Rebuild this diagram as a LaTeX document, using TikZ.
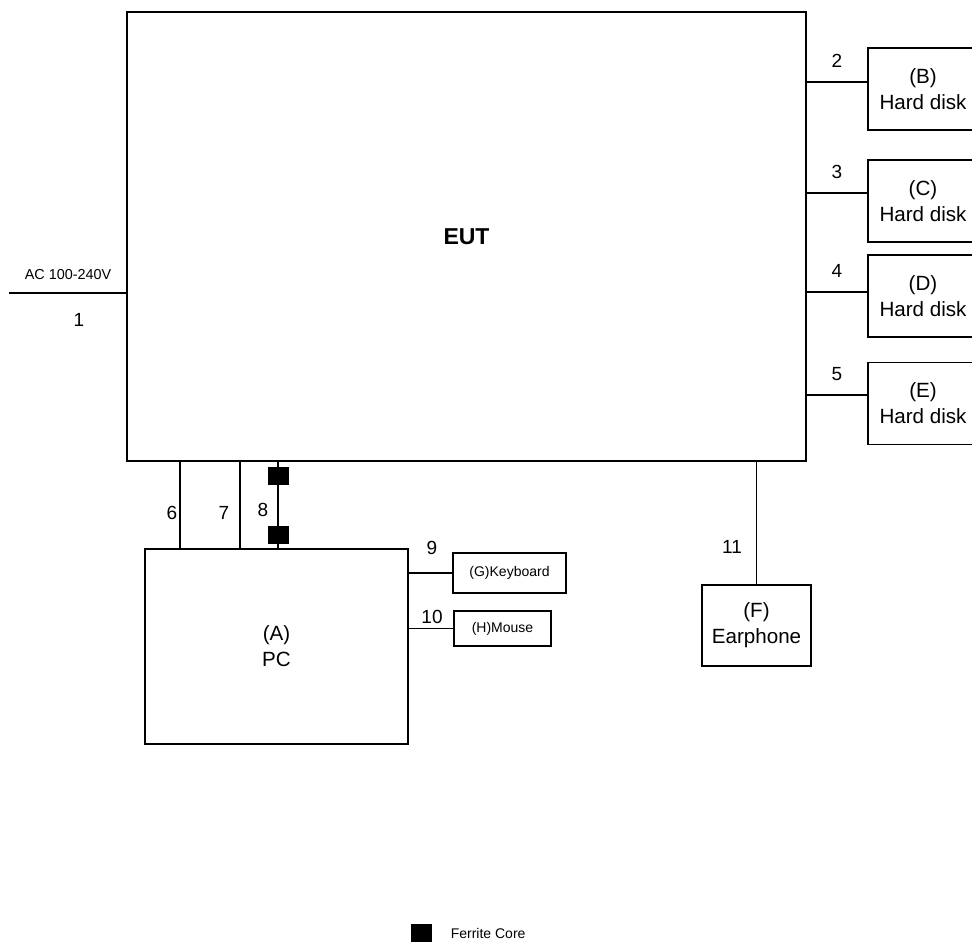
\documentclass[tikz,border=0pt]{standalone}
\usepackage{fontspec}
\setmainfont{Liberation Sans}
\usetikzlibrary{positioning}

\tikzset{
  unit/.style={draw, line width=0.8pt, inner sep=0pt, align=center,
    font=\fontsize{10.3}{13}\selectfont},
  smallunit/.style={unit, font=\fontsize{7}{9}\selectfont},
  ferrite/.style={fill=black, inner sep=0pt, minimum width=10.5pt, minimum height=9pt},
  cable/.style={line width=0.8pt},
  num/.style={inner sep=0pt, font=\fontsize{9.5}{11}\selectfont},
}

\begin{document}
\begin{tikzpicture}[x=0.5pt, y=-0.5pt]
  \clip (0,0) rectangle (972,942);

  % EUT
  \node[unit, minimum width=339.5pt, minimum height=224.5pt,
    font=\fontsize{11.5}{13}\selectfont\bfseries] (eut) at (466.5,236.5) {EUT};

  % AC mains
  \coordinate (ac) at (9,293);
  \draw[cable] (ac) -- (ac -| eut.west);
  \node[num, font=\fontsize{7.2}{9}\selectfont] (acv) at (68,275) {AC 100-240V};
  \node[num] (n1) at (79,320) {1};

  % Hard disks
  \foreach \id/\yc/\off/\n in {B/89/3.5/2, C/201/4/3, D/296/2/4, E/403.5/4.25/5}{
    \node[unit, minimum width=55pt, minimum height=41pt] (hd\id) at (923,\yc) {(\id)\\Hard disk};
    \draw[cable] ([yshift=\off pt]hd\id.west) -- coordinate (m\id) ([yshift=\off pt]hd\id.west -| eut.east);
    \node[num, above=7pt of m\id] (n\n) {\n};
  }

  % PC and peripherals
  \node[unit, minimum width=131.5pt, minimum height=97.5pt] (pc) at (276.5,646.5) {(A)\\PC};
  \node[smallunit, minimum width=56.5pt, minimum height=20pt] (kb) at (509.5,573) {(G)Keyboard};
  \node[smallunit, minimum width=48.5pt, minimum height=17.5pt] (ms) at (502.5,628.5) {(H)Mouse};
  \draw[cable] (kb.west) -- (kb.west -| pc.east);
  \draw[cable] (ms.west) -- (ms.west -| pc.east);
  \node[num] (n9) at (432,548) {9};
  \node[num] (n10) at (432,617) {10};

  % Cables EUT - PC
  \draw[cable] ([xshift=18pt]pc.north west) -- ([xshift=18pt]pc.north west |- eut.south);
  \draw[cable] ([xshift=48pt]pc.north west) -- ([xshift=48pt]pc.north west |- eut.south);
  \node[ferrite] (fc1) at (278,476) {};
  \node[ferrite] (fc2) at (278,535) {};
  \draw[cable] (fc1 |- eut.south) -- (fc2 |- pc.north);
  \node[num] (n6) at (172,513) {6};
  \node[num] (n7) at (224,513) {7};
  \node[num] (n8) at (263,510) {8};

  % Earphone
  \node[unit, minimum width=54.5pt, minimum height=40.5pt] (ear) at (756.5,625.5) {(F)\\Earphone};
  \draw[cable] (ear.north) -- (ear.north |- eut.south);
  \node[num] (n11) at (732,547) {11};

  % Legend
  \node[ferrite] (fcl) at (421.5,933) {};
  \node[num, font=\fontsize{7}{9}\selectfont, right=9pt of fcl] (fcltext) {Ferrite Core};
\end{tikzpicture}
\end{document}
